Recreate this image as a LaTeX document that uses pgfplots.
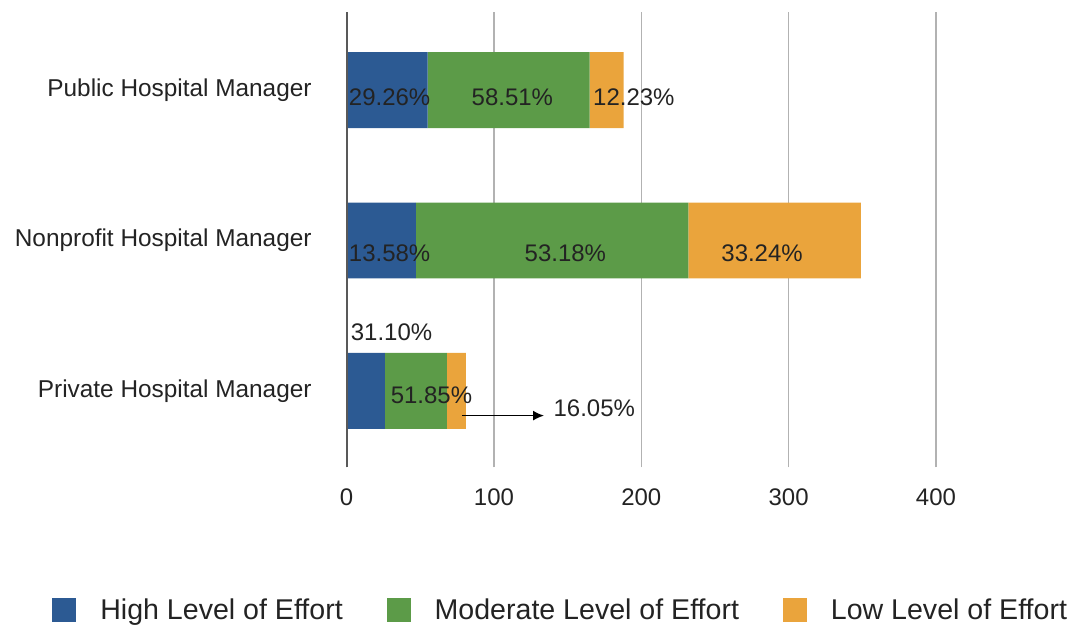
\documentclass[border=0pt]{standalone}
\usepackage{pgfplots}
\pgfplotsset{compat=1.18}
\usepackage{fontspec}
\setmainfont{Liberation Sans}
\usetikzlibrary{arrows.meta}
\definecolor{cHigh}{RGB}{44,90,147}
\definecolor{cMod}{RGB}{92,155,72}
\definecolor{cLow}{RGB}{234,164,60}
\definecolor{txt}{RGB}{35,35,35}
\tikzset{pct/.style={font=\fontsize{12}{14}\selectfont, text=txt, inner sep=0pt}}
\begin{document}
\begin{tikzpicture}
\begin{axis}[
  name=ax,
  scale only axis,
  width=295pt, height=228pt,
  xmin=0, xmax=400,
  ymin=-0.51, ymax=2.52,
  xbar stacked,
  bar width=38pt,
  axis line style={draw=none},
  xtick={0,100,200,300,400},
  xmajorgrids,
  grid style={draw=gray!60, line width=0.7pt},
  major tick length=0pt,
  ytick={0,1,2},
  yticklabels={Private Hospital Manager, Nonprofit Hospital Manager, Public Hospital Manager},
  yticklabel style={font=\fontsize{12.2}{14}\selectfont, text=txt, xshift=-14pt},
  xticklabel style={font=\fontsize{12}{14}\selectfont, text=txt, yshift=-7pt},
  /pgf/number format/assume math mode=true,
  clip=false,
  legend columns=3,
  legend style={draw=none, fill=none, at={(0.365,-0.314)}, anchor=center,
    font=\fontsize{14.3}{16}\selectfont, text=txt,
    /tikz/every odd column/.append style={column sep=10pt},
    /tikz/every even column/.append style={column sep=20pt}},
  legend image code/.code={\draw[#1,draw=none] (0pt,-6pt) rectangle (12pt,6pt);},
]
\addplot[fill=cHigh, draw=none] coordinates {(26,0) (47,1) (55,2)};
\addplot[fill=cMod, draw=none] coordinates {(42,0) (185,1) (110,2)};
\addplot[fill=cLow, draw=none] coordinates {(13,0) (117,1) (23,2)};
\legend{High Level of Effort, Moderate Level of Effort, Low Level of Effort}
\coordinate (z0) at (axis cs:0,-0.51);
\coordinate (z1) at (axis cs:0,2.52);
\coordinate (p1) at (axis cs:29.2,1.955);
\coordinate (p2) at (axis cs:112.5,1.955);
\coordinate (p3) at (axis cs:195,1.955);
\coordinate (p4) at (axis cs:29.2,0.915);
\coordinate (p5) at (axis cs:148.5,0.915);
\coordinate (p6) at (axis cs:282,0.915);
\coordinate (p7) at (axis cs:30.5,0.392);
\coordinate (p8) at (axis cs:57.6,-0.027);
\coordinate (p9) at (axis cs:168.1,-0.113);
\coordinate (a0) at (axis cs:78.4,-0.165);
\coordinate (a1) at (axis cs:134,-0.165);
\end{axis}
\draw[black!65, line width=1.1pt] (z0) -- (z1);
\node[pct] at (p1) {29.26\%};
\node[pct] at (p2) {58.51\%};
\node[pct] at (p3) {12.23\%};
\node[pct] at (p4) {13.58\%};
\node[pct] at (p5) {53.18\%};
\node[pct] at (p6) {33.24\%};
\node[pct] at (p7) {31.10\%};
\node[pct] at (p8) {51.85\%};
\node[pct] at (p9) {16.05\%};
\draw[-{Latex[length=5.5pt,width=5pt]}, line width=0.7pt, black] (a0) -- (a1);
\path ([xshift=-173.5pt,yshift=6pt]ax.north west) ([xshift=365pt,yshift=-79.5pt]ax.south west);
\end{tikzpicture}
\end{document}
